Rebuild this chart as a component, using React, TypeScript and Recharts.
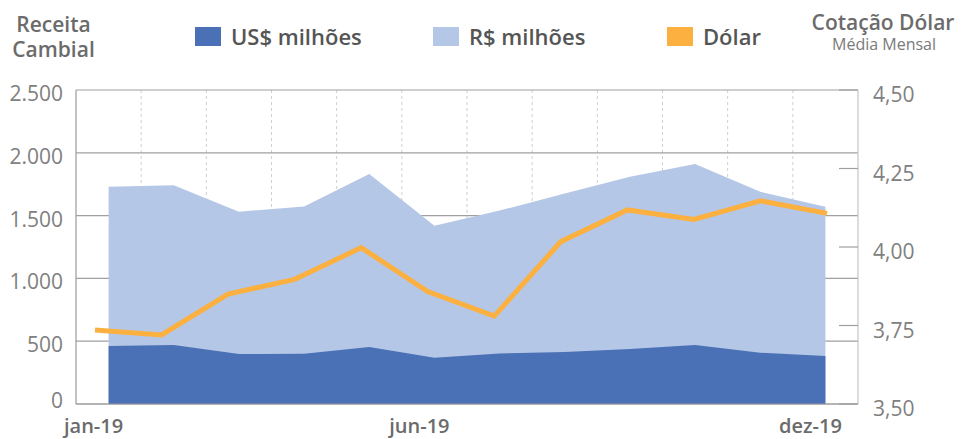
import { ComposedChart, Area, Line, XAxis, YAxis, CartesianGrid } from "recharts";

const months = ["jan-19", "fev-19", "mar-19", "abr-19", "mai-19", "jun-19", "jul-19", "ago-19", "set-19", "out-19", "nov-19", "dez-19"];
const usdMilhoes = [462, 470, 398, 400, 454, 369, 403, 414, 438, 470, 408, 382];
const brlMilhoes = [1730, 1741, 1531, 1573, 1831, 1419, 1540, 1675, 1810, 1911, 1690, 1571];
const dolarMedia = [3.736, 3.72, 3.85, 3.897, 3.998, 3.858, 3.78, 4.017, 4.118, 4.088, 4.147, 4.107];
const shownMonths = ["jan-19", "jun-19", "dez-19"];
const leftTicks = [0, 500, 1000, 1500, 2000, 2500];
const rightTicks = [3.5, 3.75, 4.0, 4.25, 4.5];

const C_USD = "#4a70b6";
const C_BRL = "#b5c7e6";
const C_DOL = "#fbb040";

const legend = [
  { label: "US$ milhões", color: C_USD, x: 195 },
  { label: "R$ milhões", color: C_BRL, x: 433 },
  { label: "Dólar", color: C_DOL, x: 667 },
];

const data = months.map((m, i) => ({ m, usd: usdMilhoes[i], brl: brlMilhoes[i], dol: dolarMedia[i] }));

const font = "'Open Sans', 'Noto Sans', sans-serif";

const fmtLeft = (v: number) => v.toLocaleString("de-DE");
const fmtRight = (v: number) => v.toFixed(2).replace(".", ",");

// dashed lines sit on the month boundaries, not on the month centres
const monthBoundaries = ({ offset }: any) =>
  months.slice(1).map((_, i) => offset.left + ((i + 1) * offset.width) / months.length);

function LeftTick(props: any) {
  const { x, y, payload } = props;
  const shift = payload.value === 0 ? -4 : 3.5;
  return (
    <text x={x - 13} y={y + shift + 7.5} textAnchor="end" fontSize={21} fill="#808080" fontFamily={font}>
      {fmtLeft(payload.value)}
    </text>
  );
}

function RightTick(props: any) {
  const { x, y, payload } = props;
  return (
    <g>
      <line x1={x - 19} x2={x} y1={y} y2={y} stroke="#a0a0a0" strokeWidth={1.2} />
      <text x={x + 15} y={y + 12} textAnchor="start" fontSize={21} fill="#808080" fontFamily={font}>
        {fmtRight(payload.value)}
      </text>
    </g>
  );
}

function MonthTick(props: any) {
  const { x, y, payload } = props;
  if (!shownMonths.includes(payload.value)) return null;
  return (
    <text x={x - 15} y={y + 29} textAnchor="middle" fontSize={20} fontWeight={600} fill="#6b6b6b" fontFamily={font}>
      {payload.value}
    </text>
  );
}

export default function App() {
  return (
    <div style={{ position: "absolute", left: 0, top: 0, width: 963, height: 439, background: "#fff", fontFamily: font }}>
      <ComposedChart width={963} height={439} data={data} margin={{ top: 90, right: 0, bottom: 0, left: 0 }}>
        <XAxis xAxisId="ln" dataKey="m" type="category" scale="point" padding={{ left: 19, right: 31 }} hide />
        <XAxis
          xAxisId="cat"
          dataKey="m"
          type="category"
          scale="band"
          height={35}
          interval={0}
          tickLine={false}
          tickSize={0}
          tickMargin={0}
          axisLine={{ stroke: "#9a9a9a", strokeWidth: 1.2 }}
          tick={<MonthTick />}
        />
        <YAxis
          yAxisId="l"
          width={76}
          domain={[0, 2500]}
          ticks={leftTicks}
          tickLine={false}
          tickSize={0}
          tickMargin={0}
          axisLine={{ stroke: "#9a9a9a", strokeWidth: 1.2 }}
          tick={<LeftTick />}
        />
        <YAxis
          yAxisId="r"
          orientation="right"
          width={105}
          domain={[3.5, 4.5]}
          ticks={rightTicks}
          tickLine={false}
          tickSize={0}
          tickMargin={0}
          axisLine={{ stroke: "#c4c4c4", strokeWidth: 1.2 }}
          tick={<RightTick />}
        />
        <CartesianGrid
          xAxisId="cat"
          yAxisId="l"
          horizontal={false}
          verticalCoordinatesGenerator={monthBoundaries}
          stroke="#cfcfcf"
          strokeDasharray="3 3"
        />
        <CartesianGrid xAxisId="cat" yAxisId="l" vertical={false} stroke="#a0a0a0" strokeWidth={1.2} />
        <Area
          xAxisId="cat"
          yAxisId="l"
          dataKey="brl"
          type="linear"
          fill={C_BRL}
          fillOpacity={1}
          stroke="none"
          dot={false}
          activeDot={false}
          isAnimationActive={false}
        />
        <Area
          xAxisId="cat"
          yAxisId="l"
          dataKey="usd"
          type="linear"
          fill={C_USD}
          fillOpacity={1}
          stroke="none"
          dot={false}
          activeDot={false}
          isAnimationActive={false}
        />
        <Line
          xAxisId="ln"
          yAxisId="r"
          dataKey="dol"
          type="linear"
          stroke={C_DOL}
          strokeWidth={5}
          dot={false}
          activeDot={false}
          isAnimationActive={false}
        />
      </ComposedChart>
      <svg width={963} height={80} style={{ position: "absolute", left: 0, top: 0, pointerEvents: "none" }}>
        <g fontFamily={font} fontWeight={600} fill="#6b6b6b" fontSize={21} textAnchor="middle">
          <text x={53.5} y={32}>Receita</text>
          <text x={53.5} y={57}>Cambial</text>
          <text x={883} y={30}>Cotação Dólar</text>
        </g>
        <text x={884} y={50} textAnchor="middle" fontFamily={font} fontSize={16} fill="#7a7a7a">
          Média Mensal
        </text>
        {legend.map((l) => (
          <g key={l.label}>
            <rect x={l.x} y={27} width={26} height={19} fill={l.color} />
            <text x={l.x + 36} y={45} fontFamily={font} fontWeight={600} fontSize={22} fill="#555">
              {l.label}
            </text>
          </g>
        ))}
      </svg>
    </div>
  );
}
